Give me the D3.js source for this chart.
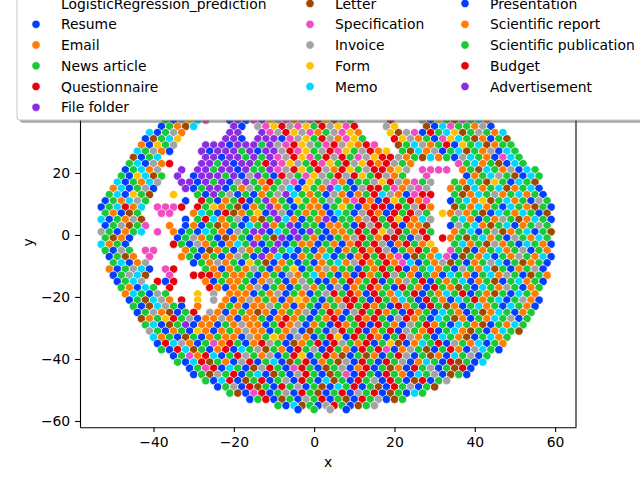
<!DOCTYPE html>
<html>
<head>
<meta charset="utf-8">
<script src="https://cdn.jsdelivr.net/npm/d3@7"></script>
<style>
    body { margin: 0; background: #fff; }
    svg { display: block; }
    text { font-family: "DejaVu Sans", sans-serif; }
</style>
</head>
<body>
<div id="chart"></div>
<script>
// legend title and hue classes, in legend order
var legendTitle = "LogisticRegression_prediction";
var categories = ["Resume", "Email", "News article", "Questionnaire", "File folder",
    "Letter", "Specification", "Invoice", "Form", "Memo",
    "Presentation", "Scientific report", "Scientific publication", "Budget", "Advertisement"];
// seaborn "bright" palette, cycled over the 15 classes
var palette = ["#023eff", "#ff7c00", "#1ac938", "#e8000b", "#8b2be2",
    "#9f4800", "#f14cc1", "#a3a3a3", "#ffc400", "#00d7ff"];
// one letter per class: a = Resume ... o = Advertisement
var classCodes = "abcdefghijklmno";

var xTicks = [-40, -20, 0, 20, 40, 60];
var yTicks = [-60, -40, -20, 0, 20];   // 40 sits under the legend

// scatter points, one row per y value: "x + class letter"
var scatterRows = [
    [37, "-37c -35a -33h -31i -29j -27g -21a -19e -17k -15g -13e -11i -9h -7g -5b -3h -1g 1n 3i 5f 7h 9c 19d 27h 29a 31i 33c 35f 37g 39m 41j 43b"],
    [35, "-38a -36c -34b -32f -30j -20e -18k -14h -12g -10i -8d -6h -4g -2i 0c 2n 4h 6i 8g 10d 18h 20i 28f 30a 32j 34g 36m 38c 40b 42h 44a"],
    [33, "-41j -39a -37c -35h -33b -21e -19o -13e -11g -9h -7d -5i -3h -1g 1b 3m 5h 7g 9i 11b 19i 21f 23h 25g 27a 29d 31c 33j 35i 37f 39c 41h 43m 45b 47j"],
    [31, "-42a -40f -38c -36j -34i -22e -20o -18a -14e -12o -10e -8k -6g -4h -2i 0c 2d 4h 6b 8g 10i 12c 20n 22i 24h 26b 28c 30a 32g 34i 36j 38c 40f 42b 44a 46c 48f"],
    [29, "-43b -41a -39i -37c -35h -27e -25o -23e -21a -19e -17o -15e -13m -11e -9h -7g -5d -3i -1h 1c 3g 5n 7h 9i 11b 13d 15g 21f 23c 25j 27h 29b 31c 33d 35a 37i 39c 41j 43f 45b 47m 49c"],
    [27, "-44j -42c -40h -38b -36a -28o -26a -24e -22e -20o -18c -16e -14a -12e -10o -8h -6d -4g -2i 0c 2h 4n 6g 8i 10c 12h 14d 16b 18i 22c 24f 26j 28b 30h 32a 34c 36j 38f 40c 42b 44h 46a 48j 50c"],
    [25, "-45f -43a -41c -39j -27e -25e -23k -21o -19e -17m -15e -13c -11o -9g -7h -5d -3i -1g 1c 3n 5h 7d 9c 11g 13h 15i 17n 19d 21h 23b 25c 27f 29j 31b 33c 35a 37h 39j 41c 43b 45a 47g 49j 51c"],
    [23, "-46c -44j -42a -40h -38b -36n -28e -26o -24c -22e -20a -18e -16o -14c -12d -10e -8g -6i -4h -2c 0d 2g 4i 6c 8d 10h 12i 14n 16b 18d 20h 22c 24b 36g 38c 40j 42b 44c 46f 48a 50j 52c"],
    [21, "-47a -45c -43j -41b -39h -33o -29e -27o -25c -23e -21e -19a -17e -15m -13c -11o -9g -7h -5d -3i -1c 1n 3h 5b 7d 9i 11c 13h 15d 17n 19b 21i 23h 27g 29g 31g 33g 37b 39c 41f 43j 45c 47b 49h 51a 53j 55c"],
    [19, "-48c -46a -44i -42j -40f -38c -34e -30a -28e -26e -24o -22c -20e -18a -16h -14e -12c -10a -8d -6h -4c -2g 0i 2h 4c 6n 8h 10d 12i 14c 16d 18h 20b 22c 28g 38a 40b 42c 44j 46h 48c 50f 52a 54j 56c"],
    [17, "-49j -47a -45c -43b -41j -39h -33e -31o -29a -27e -25c -23e -21a -19h -17e -15c -13b -11d -9c -7h -5g -3a -1i 1c 3h 5g 7b 9a 11c 13c 15h 17i 19d 21h 23b 25g 27c 29h 35c 37b 39j 41m 43f 45i 47c 49a 51j 53c 55f"],
    [15, "-50b -48j -46a -44c -42h -40a -32e -30a -28c -26o -24e -22a -20c -18b -16h -14c -12b -10m -8h -6j -4a -2i 0c 2b 4e 6j 8c 10a 12h 14d 16n 18c 20g 22b 24h 26g 28h 34b 36c 38f 40j 42b 44c 46j 48f 50b 52c 54j 56a"],
    [13, "-51c -49j -47a -45i -43c -41f -35i -29c -27a -25e -23c -21h -19a -17c -15a -13b -11c -9h -7e -5j -3c -1b 1c 3a 5h 7b 9a 11b 13c 15n 17j 19h 21b 23a 25g 27d 29n 35c 37f 39b 41j 43c 45h 47b 49c 51j 53b 55c 57a"],
    [11, "-52a -50c -48b -46j -44h -42c -32a -28n -26c -24a -22b -20c -18d -16a -14c -12o -10b -8c -6a -4i -2c 0b 2c 4h 6c 8b 10g 12n 14b 16a 18n 20i 22c 24d 26b 28g 34a 36c 38j 40b 42i 44f 46c 48j 50b 52c 54a 56h 58c"],
    [9, "-53a -51c -49j -47n -45b -43j -39g -37g -35g -33n -29n -27c -25i -23b -21c -19f -17a -15b -13c -11e -9b -7c -5a -3c -1b 1b 3a 5c 7i 9c 11a 13b 15n 17d 19a 21n 23c 25h 27d 29b 35f 37c 39b 41j 43b 45c 47a 49j 51c 53b 55f 57c 59a"],
    [7, "-52c -50b -48a -46f -44c -38g -36g -30b -28j -26c -24a -22n -20f -18b -16c -14i -12a -10e -8h -6a -4c -2b 0c 2b 4a 6j 8c 10a 12h 14d 16b 18a 20d 22c 24n 26h 28c 32i 34b 36h 38b 40c 42f 44a 46j 48c 50b 52j 54c 56a 58f"],
    [5, "-53j -51a -49c -47b -45h -43f -32a -29c -27d -25j -23b -21c -19h -17a -15b -13f -11c -9o -7j -5b -3a -1c 1b 3o 5a 7c 9c 11b 13h 15n 17c 19d 21i 23n 25b 27j 29h 35c 37j 39b 41a 43c 45b 47h 49c 51f 53b 55j 57c 59a"],
    [3, "-52a -50c -48h -46f -44c -42g -36b -32a -30b -28a -26c -24f -22b -20c -18a -16j -14c -12e -10b -8c -6o -4a -2c 0c 2a 4b 6b 8c 10a 12d 14h 16n 18c 20d 22a 24b 26b 28f 34a 36h 38c 40j 42b 44f 46c 48j 50a 52b 54c 56h 58c"],
    [1, "-53h -51c -49a -47b -45c -43j -39g -35b -33a -31c -29a -27j -25c -23b -21a -19h -17c -15e -13o -11a -9j -7c -5e -3a -1o 1c 3a 5b 7b 9c 11n 13c 15d 17i 19h 21n 23c 25b 27d 29c 35b 37c 39j 41a 43c 45h 47f 49b 51c 53j 55a 57c 59f"],
    [-1, "-52c -50f -48b -46a -34a -32c -30h -28b -26c -24a -22f -20b -18c -16a -14b -12c -10f -8e -6a -4o -2c 0b 2a 4a 6c 8b 10h 12n 14c 16b 18d 20n 22c 24a 26h 28d 32n 34b 36c 38f 40c 42j 44b 46c 48a 50h 52c 54b 56j 58c"],
    [-3, "-53j -51b -49c -47a -35n -33c -31a -29h -27b -25c -23a -21b -19j -17c -15e -13a -11c -9o -7a -5c -3b -1b 1a 3c 5b 7a 9b 11n 13c 15d 17h 19a 21b 23n 25c 27b 29i 35c 37j 39b 41c 43f 45h 47b 49c 51a 53j 55c 57b 59a"],
    [-5, "-52c -50a -48h -46c -42g -40g -32b -30c -28a -26f -24b -22c -20a -18h -16b -14c -12a -10e -8c -6j -4a -2c 0a 2b 4c 6a 8b 10c 12d 14b 16n 18h 20a 22c 24b 26d 28c 30b 34g 36c 38f 40a 42b 44c 46j 48b 50c 52h 54a 56c 58b"],
    [-7, "-51a -49c -47f -45b -41g -33b -31c -29a -27l -25c -23a -21b -19h -17c -15a -13e -11b -9j -7a -5a -3b -1c 1b 3j 5a 7c 9a 11b 13d 15c 17n 19b 21g 23a 25f 27c 29b 31j 33g 35a 37f 39c 41b 43j 45a 47c 49b 51h 53c 55b 57j 59a"],
    [-9, "-50c -48j -46a -44b -42h -30a -28c -26l -24h -22b -20c -18a -16i -14c -12f -10a -8b -6c -4a -2c 0a 2b 4c 6j 8b 10h 12d 14b 16c 18n 20b 22g 24j 26a 28c 30b 32h 34f 36c 38a 40b 42c 44h 46j 48a 50c 52f 54b 56c 58a"],
    [-11, "-51b -49a -47c -45h -43j -41a -37g -35n -27c -25b -23a -21l -19c -17b -15h -13c -11a -9b -7c -5i -3a -1c 1b 3h 5b 7c 9c 11a 13c 15b 17n 19c 21d 23a 25b 27c 29j 31b 33c 35a 37h 39c 41b 43j 45f 47c 49a 51b 53c 55h 57a"],
    [-13, "-50a -48c -46h -44j -42f -36g -30n -28d -26n -24b -22c -20l -18b -16c -14a -12b -10c -8a -6h -4b -2c 0j 2b 4c 6a 8b 10a 12d 14b 16c 18n 20h 22c 24b 26a 28c 30b 32a 34j 36c 38b 40a 42c 44j 46b 48h 50c 52a 54f 56c 58b"],
    [-15, "-49a -47c -45j -43h -39n -37a -35n -27b -25a -23c -21l -19b -17c -15a -13b -11h -9c -7a -5b -3h -1c 1a 3a 5b 7c 9d 11b 13c 15n 17a 19c 21b 23h 25c 27n 29a 31c 33b 35c 37j 39a 41b 43c 45f 47a 49c 51j 53b 55c 57a"],
    [-17, "-48c -46b -44a -42j -40c -36n -26d -24l -22a -20b -18c -16b -14h -12a -10c -8b -6a -4c -2h 0b 2c 4a 6h 8a 10b 12c 14d 16b 18c 20a 22n 24c 26b 28a 30n 32c 34b 36f 38c 40a 42j 44c 46b 48h 50c 52a 54b 56c"],
    [-19, "-47b -45j -43c -41a -39h -37c -29i -25h -21b -19l -17b -15a -13c -11b -9h -7a -5c -3b -1a 1c 3h 5d 7c 9n 11b 13a 15d 17c 19b 21j 23c 25n 27a 29c 31b 33j 35c 37n 39a 41c 43b 45f 47c 49a 51j 53c 55b"],
    [-21, "-46a -44c -42f -40j -38h -36b -33n -29i -25h -22b -20a -18l -16h -14b -12c -10b -8a -6l -4i -2b 0c 2a 4c 6b 8d 10n 12c 14a 16d 18c 20b 22j 24c 26a 28n 30c 32b 34a 36j 38c 40n 42b 44c 46j 48a 50c 52h 54b 56a"],
    [-23, "-45c -43a -41f -39j -37h -35c -33a -29b -23l -21c -19b -17a -15l -13b -11h -9c -7b -5a -3l -1c 1a 3b 5c 7h 9d 11c 13n 15b 17c 19a 21d 23b 25c 27a 29d 31c 33f 35b 37a 39c 41j 43b 45c 47a 49j 51c 53b 55a"],
    [-25, "-44a -42c -40h -38b -36f -34a -32c -30n -26h -24b -22a -20l -18c -16b -14f -12b -10a -8l -6c -4b -2h 0a 2c 4d 6b 8a 10h 12n 14c 16d 18b 20c 22a 24d 26b 28c 30a 32j 34c 36b 38a 40c 42f 44b 46j 48c 50a 52b 54c"],
    [-27, "-43f -41b -39c -37i -35n -33c -31h -29a -27b -25l -23h -21b -19a -17l -15b -13c -11a -9b -7d -5l -3c -1a 1c 3b 5d 7a 9c 11d 13b 15n 17c 19a 21h 23d 25b 27c 29a 31j 33c 35f 37b 39a 41c 43b 45j 47c 49h 51a 53c"],
    [-29, "-42c -40j -38a -36f -34c -32e -30a -28b -26l -24a -22c -20b -18h -16l -14b -12a -10c -8n -6b -4h -2a 0b 2c 4a 6d 8b 10c 12n 14a 16d 18c 20b 22a 24h 26c 28d 30b 32c 34a 36j 38c 40b 42f 44a 46c 48b 50j 52c"],
    [-31, "-41h -39c -37a -35b -33c -31a -29i -27b -25a -23l -21c -19b -17h -15b -13l -11a -9c -7b -5h -3a -1f 1c 3a 5h 7d 9c 11n 13a 15b 17c 19d 21a 23h 25c 27b 29n 31a 33c 35j 37b 39f 41c 43a 45b 47j 49c 51f"],
    [-33, "-40j -38b -36c -34a -32f -30c -28a -26b -24c -22l -20b -18a -16h -14b -12c -10i -8b -6a -4h -2b 0a 2c 4d 6i 8a 10d 12c 14n 16b 18a 20c 22d 24h 26b 28c 30a 32j 34c 36b 38f 40a 42c 44j 46b 48c"],
    [-35, "-39a -37n -35j -33h -31b -29a -27c -25g -23b -21d -19c -17a -15b -13n -11h -9c -7a -5f -3b -1c 1d 3a 5n 7h 9c 11b 13d 15a 17c 19i 21f 23a 25b 27j 29c 31d 33a 35h 37c 39b 41j 43a 45c 47b"],
    [-37, "-38c -36a -34d -32j -30f -28c -26a -24b -22n -20a -18j -16c -14h -12f -10c -8b -6a -4n -2c 0h 2a 4d 6c 8b 10a 12n 14c 16d 18g 20a 22b 24h 26c 28f 30a 32c 34n 36b 38a 40h 42j 44c 46a"],
    [-39, "-35a -33c -31g -29b -27n -25j -23a -21c -19d -17h -15c -13b -11h -9a -7c -5d -3i -1a 1c 3n 5b 7f 9a 11c 13f 15b 17a 19c 21n 23h 25a 27c 29f 31b 33a 35j 37c 39h 41a 43c"],
    [-41, "-34c -32a -30j -28n -26f -24c -22b -20a -18h -16n -14a -12c -10j -8a -6f -4c -2d 0a 2b 4c 6f 8h 10a 12n 14c 16a 18d 20c 22h 24a 26b 28j 30c 32a 34n 36f 38c 40a 42j"],
    [-43, "-31a -29c -27g -25d -23a -21j -19c -17a -15f -13h -11d -9c -7a -5g -3n -1c 1a 3f 5c 7h 9a 11b 13n 15a 17c 19f 21b 23a 25d 27c 29h 31a 33c 35f 37n 39a"],
    [-45, "-30a -28c -26f -24h -22c -20n -18a -16c -14j -12a -10f -8c -6a -4h -2n 0c 2a 4f 6c 8g 10a 12d 14c 16a 18n 20c 22b 24a 26j 28c 30h 32a 34f 36c 38a"],
    [-47, "-27c -25a -23j -21d -19a -17f -15c -13n -11a -9c -7h -5a -3d -1c 1a 3j 5f 7c 9a 11n 13c 15h 17a 19d 21c 23a 25f 27n 29a 31c 33h"],
    [-49, "-24a -22c -20h -18a -16n -14f -12c -10a -8d -6c -4h -2a 0c 2f 4a 6j 8c 10n 12a 14c 16f 18a 20d 22c 24h 26a 28c 30f"],
    [-51, "-21c -19f -17a -15g -13d -11a -9c -7h -5a -3n -1c 1f 3a 5c 7d 9a 11h 13c 15n 17a 19f 21c 23a 25j 27c"],
    [-53, "-16a -14c -12n -10a -8f -6c -4a -2h 0c 2d 4a 6c 8f 10a 12n 14c 16h 18a 20f 22c"],
    [-55, "-9c -7a -5j -3f -1c 1a 3h 5n 7c 9a 11f 13c 15h"],
    [-56.3, "-4a 0c 4h 8a"]
];

var width = 640,
    height = 480,
    plot = { left: 80, right: 576, top: 57.6, bottom: 427.2 },
    fontSize = 13.9,
    pointRadius = 4.17;

var svg = d3.select("#chart")
    .append("svg")
    .attr("width", width)
    .attr("height", height);

var x = d3.scaleLinear().domain([-58.3, 65.2]).range([plot.left, plot.right]);
var y = d3.scaleLinear().domain([-62.0, 57.2]).range([plot.bottom, plot.top]);

function colorOf(classIndex) {
    return palette[classIndex % palette.length];
}

// flatten the rows into point records
var points = [];
scatterRows.forEach(function (row) {
    row[1].split(" ").forEach(function (token) {
        points.push({
            x: +token.slice(0, -1),
            y: row[0],
            c: classCodes.indexOf(token.slice(-1))
        });
    });
});

svg.append("g")
    .selectAll("circle")
    .data(points)
    .enter().append("circle")
    .attr("cx", function (d) { return x(d.x); })
    .attr("cy", function (d) { return y(d.y); })
    .attr("r", pointRadius)
    .style("fill", function (d) { return colorOf(d.c); })
    .style("stroke", "#fff")
    .style("stroke-width", 0.7);

// axes
var xAxis = svg.append("g")
    .attr("transform", "translate(0," + plot.bottom + ")")
    .call(d3.axisBottom(x).tickValues(xTicks).tickSize(4.9).tickSizeOuter(0).tickPadding(5.2));

var yAxis = svg.append("g")
    .attr("transform", "translate(" + plot.left + ",0)")
    .call(d3.axisLeft(y).tickValues(yTicks).tickSize(4.9).tickSizeOuter(0).tickPadding(4.9));

[xAxis, yAxis].forEach(function (g) {
    g.attr("font-family", null).attr("font-size", null);
    g.selectAll("text").style("font-size", fontSize + "px").style("fill", "#000");
    g.selectAll("line, path").style("stroke", "#000").style("stroke-width", 1.1);
});

svg.append("line")
    .attr("x1", plot.right).attr("x2", plot.right)
    .attr("y1", plot.top).attr("y2", plot.bottom)
    .style("stroke", "#000").style("stroke-width", 1.1);
svg.append("line")
    .attr("x1", plot.left).attr("x2", plot.right)
    .attr("y1", plot.top).attr("y2", plot.top)
    .style("stroke", "#000").style("stroke-width", 1.1);

svg.append("text")
    .attr("x", (plot.left + plot.right) / 2)
    .attr("y", 467)
    .attr("text-anchor", "middle")
    .style("font-size", fontSize + "px")
    .text("x");

svg.append("text")
    .attr("transform", "translate(33," + (plot.top + plot.bottom) / 2 + ") rotate(-90)")
    .attr("text-anchor", "middle")
    .style("font-size", fontSize + "px")
    .text("y");

// legend: title entry plus 15 classes, filled column by column (6, 5, 5)
var legend = svg.append("g");
var legendBox = { x: 17, y: -20, w: 700, h: 140 },
    rowY = [3.5, 24.3, 45, 65.8, 86.5, 107.3],
    colText = [61, 335, 490],
    colMarker = [36, 310, 465];

legend.append("rect")
    .attr("x", legendBox.x + 2.8).attr("y", legendBox.y + 2.8)
    .attr("width", legendBox.w).attr("height", legendBox.h)
    .attr("rx", 2.8)
    .style("fill", "#4d4d4d").style("opacity", 0.5);
legend.append("rect")
    .attr("x", legendBox.x).attr("y", legendBox.y)
    .attr("width", legendBox.w).attr("height", legendBox.h)
    .attr("rx", 2.8)
    .style("fill", "#fff").style("stroke", "#cccccc").style("stroke-width", 1.1);

var entries = [{ label: legendTitle, c: -1 }].concat(categories.map(function (name, i) {
    return { label: name, c: i };
}));

entries.forEach(function (d, i) {
    var col = i < 6 ? 0 : (i < 11 ? 1 : 2),
        row = col === 0 ? i : (col === 1 ? i - 6 : i - 11);
    if (d.c >= 0) {
        legend.append("circle")
            .attr("cx", colMarker[col])
            .attr("cy", rowY[row])
            .attr("r", pointRadius)
            .style("fill", colorOf(d.c))
            .style("stroke", "#fff")
            .style("stroke-width", 0.7);
    }
    legend.append("text")
        .attr("x", colText[col])
        .attr("y", rowY[row] + 5)
        .style("font-size", fontSize + "px")
        .text(d.label);
});
</script>
</body>
</html>
